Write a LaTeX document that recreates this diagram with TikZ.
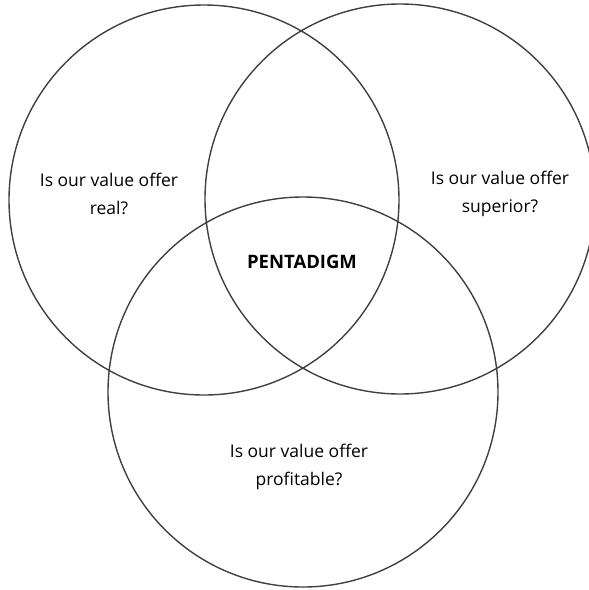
\documentclass[tikz,border=0pt]{standalone}
\usepackage{fontspec}
\setmainfont{Open Sans}
\begin{document}
\begin{tikzpicture}[x=1pt,y=-1pt,
  ring/.style={draw=black!75,line width=1.4pt},
  lbl/.style={font=\fontsize{17.5}{27.5}\selectfont,align=center,text=black},
  core/.style={font=\fontsize{18.5}{20}\selectfont\bfseries}]
\useasboundingbox (0,0) rectangle (589,590);
\begin{scope}
\clip (0,0) rectangle (589,590);
\draw[ring] (204,200) circle[radius=195];
\draw[ring] (400,199) circle[radius=195];
\draw[ring] (303,392) circle[radius=195];
\end{scope}
\node[lbl] (real) at (109,194) {Is our value offer\\real?};
\node[lbl] (sup) at (500,194) {Is our value offer\\superior?};
\node[lbl] (prof) at (299,467) {Is our value offer\\profitable?};
\node[core] (pd) at (302,262) {PENTADIGM};
\end{tikzpicture}
\end{document}
